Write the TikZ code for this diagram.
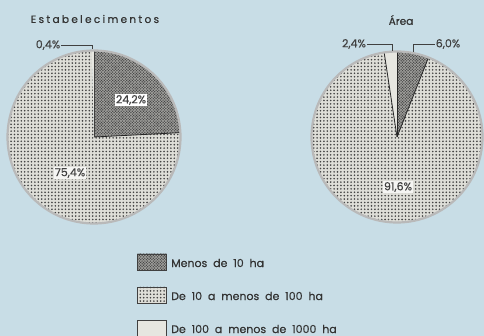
\documentclass[tikz,border=0pt]{standalone}
\usepackage{fontspec}
\setmainfont{Poppins}[FakeBold=0.5, WordSpace=1.6]
\newfontfamily\legfont{Poppins}[FakeBold=0.5, WordSpace=2]
\usetikzlibrary{patterns}
\definecolor{bg}{HTML}{C8DDE6}
\definecolor{piebase}{HTML}{DEDED8}
\definecolor{darkbase}{HTML}{A9A9A5}
\definecolor{dotc}{HTML}{454545}
\definecolor{palec}{HTML}{E6E6E0}
\pgfdeclarepatternformonly{bigdots}{\pgfqpoint{-1pt}{-1pt}}{\pgfqpoint{4pt}{4pt}}{\pgfqpoint{3.4pt}{3.4pt}}%
  {\pgfpathcircle{\pgfqpoint{0.9pt}{0.9pt}}{0.9pt}\pgfusepath{fill}}
\pgfdeclarepatternformonly{densedots}{\pgfqpoint{-1pt}{-1pt}}{\pgfqpoint{4pt}{4pt}}{\pgfqpoint{2.8pt}{2.8pt}}%
  {\pgfpathcircle{\pgfqpoint{0.7pt}{0.7pt}}{0.8pt}\pgfpathcircle{\pgfqpoint{2.1pt}{2.1pt}}{0.8pt}\pgfusepath{fill}}
\begin{document}
\begin{tikzpicture}[x=1pt,y=-1pt,
  lightpat/.style={preaction={fill=piebase}, pattern=bigdots, pattern color=dotc},
  darkpat/.style={preaction={fill=darkbase}, pattern=densedots, pattern color=dotc},
  palepat/.style={fill=palec},
  edge/.style={draw=black!85, line width=0.8pt},
  ring/.style={circle, draw=gray!55, line width=2.2pt, inner sep=0pt, minimum size=#1},
  pct/.style={font=\fontsize{11}{12}\selectfont, inner sep=1pt, text=black!75},
  leader/.style={draw=black!75, line width=0.7pt},
  legbox/.style={draw=black!75, line width=0.8pt, minimum width=29pt, minimum height=16pt, inner sep=0pt},
  legtext/.style={anchor=west, font=\legfont\fontsize{11}{12}\selectfont, text=black!80, inner sep=0pt},
  title/.style={font=\fontsize{10.5}{12}\selectfont, text=black!80}]
\useasboundingbox[fill=bg] (0,0) rectangle (484,336);

% ---- left pie
\coordinate (cL) at (94,137);
\path[lightpat] (cL) -- ++(-2.88:86) arc[start angle=-2.88, end angle=268.56, radius=86] -- cycle;
\path[darkpat] (cL) -- ++(-90:86) arc[start angle=-90, end angle=-2.88, radius=86] -- cycle;
\draw[edge] (cL) -- ++(-90:86);
\draw[edge] (cL) -- ++(-2.88:86);
\path[palepat] (cL) -- ++(-91.44:86) arc[start angle=-91.44, end angle=-90, radius=86] -- cycle;
\node[ring=173pt] (pieL) at (cL) {};

% ---- right pie
\coordinate (cR) at (397,137);
\path[lightpat] (cR) -- ++(-68.4:85) arc[start angle=-68.4, end angle=261.36, radius=85] -- cycle;
\path[darkpat] (cR) -- ++(-90:85) arc[start angle=-90, end angle=-68.4, radius=85] -- cycle;
\path[palepat] (cR) -- ++(-98.64:85) arc[start angle=-98.64, end angle=-90, radius=85] -- cycle;
\draw[edge] (cR) -- ++(-98.64:85);
\draw[edge] (cR) -- ++(-90:85);
\draw[edge] (cR) -- ++(-68.4:85);
\node[ring=171pt] (pieR) at (cR) {};

% ---- titles
\node[title] (tE) at (95,19) {\addfontfeatures{LetterSpace=22}Estabelecimentos};
\node[title] (tA) at (401,20) {Área};

% ---- percentage labels
\node[pct] (l04) at (48,45) {0,4\%};
\draw[leader] (l04.east) -| (pieL.91);
\node[pct] (l24) at (354,44) {2,4\%};
\draw[leader] (l24.east) -| (pieR.93);
\node[pct] (l60) at (448,44) {6,0\%};
\draw[leader] (l60.west) -| (pieR.79);
\node[pct, fill=white] (p242) at (131,100) {24,2\%};
\node[pct, fill=white!70!piebase] (p754) at (70,173) {75,4\%};
\node[pct, fill=white!70!piebase] (p916) at (398,187) {91,6\%};

% ---- legend
\node[legbox, darkpat] (b1) at (152,262) {};
\node[legtext] (t1) at (171,263) {Menos de 10 ha};
\node[legbox, lightpat] (b2) at (152,295) {};
\node[legtext] (t2) at (171,296) {De 10 a menos de 100 ha};
\node[legbox, palepat] (b3) at (152,328) {};
\node[legtext] (t3) at (171,329) {De 100 a menos de 1000 ha};
\end{tikzpicture}
\end{document}
